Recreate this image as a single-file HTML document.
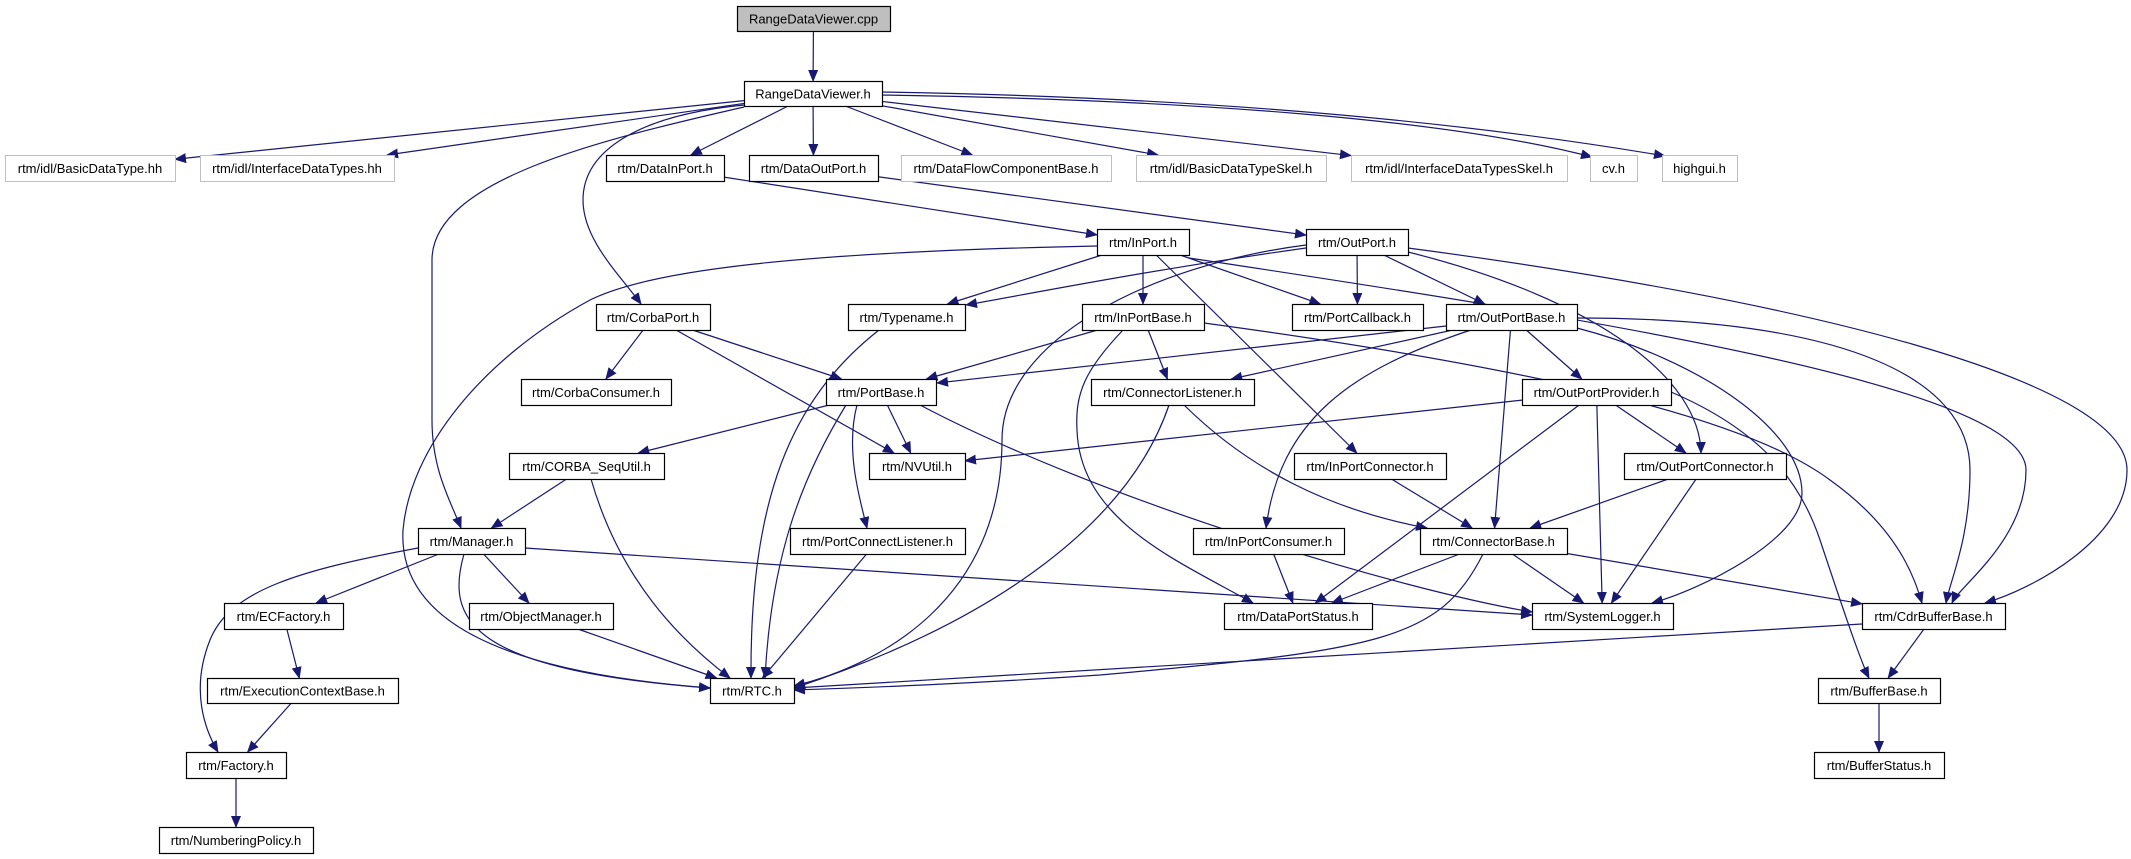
<!DOCTYPE html>
<html><head><meta charset="utf-8"><style>
html,body{margin:0;padding:0;background:#fff;}
svg{display:block;}
text{font-family:"Liberation Sans",Arial,sans-serif;font-size:13px;}
</style></head><body>
<svg id="g" width="2131" height="859" viewBox="0 0 2131 859" xmlns="http://www.w3.org/2000/svg">
<defs><marker id="a" markerWidth="12" markerHeight="10" refX="11" refY="5" orient="auto" markerUnits="userSpaceOnUse"><path d="M0,0 L12,5 L0,10 z" fill="#191970"/></marker></defs>
<g id="E" fill="none" stroke="#191970" stroke-width="1.2"></g>
<g id="N"></g>
</svg>
<script>
var N={
cpp:[737,6,890,31,"RangeDataViewer.cpp",2],
rdv:[744,81,882,106,"RangeDataViewer.h",0],
bdt:[5,155,175,181,"rtm/idl/BasicDataType.hh",1],
idt:[200,155,394,181,"rtm/idl/InterfaceDataTypes.hh",1],
dip:[606,155,724,181,"rtm/DataInPort.h",0],
dop:[749,155,878,181,"rtm/DataOutPort.h",0],
dfc:[901,155,1111,181,"rtm/DataFlowComponentBase.h",1],
bds:[1136,155,1326,181,"rtm/idl/BasicDataTypeSkel.h",1],
ids:[1351,155,1567,181,"rtm/idl/InterfaceDataTypesSkel.h",1],
cv:[1590,155,1637,181,"cv.h",1],
hg:[1662,155,1737,181,"highgui.h",1],
inp:[1097,229,1189,255,"rtm/InPort.h",0],
outp:[1306,229,1408,255,"rtm/OutPort.h",0],
cp:[596,304,710,330,"rtm/CorbaPort.h",0],
tn:[848,304,965,330,"rtm/Typename.h",0],
ipb:[1082,304,1204,330,"rtm/InPortBase.h",0],
pcb:[1292,304,1423,330,"rtm/PortCallback.h",0],
opb:[1446,304,1577,330,"rtm/OutPortBase.h",0],
cc:[521,379,671,405,"rtm/CorbaConsumer.h",0],
pb:[826,379,936,405,"rtm/PortBase.h",0],
cl:[1091,379,1254,405,"rtm/ConnectorListener.h",0],
opp:[1522,379,1671,405,"rtm/OutPortProvider.h",0],
csu:[509,453,664,479,"rtm/CORBA_SeqUtil.h",0],
nv:[869,453,965,479,"rtm/NVUtil.h",0],
ipc:[1294,453,1446,479,"rtm/InPortConnector.h",0],
opc:[1624,453,1786,479,"rtm/OutPortConnector.h",0],
mg:[418,528,525,554,"rtm/Manager.h",0],
pcl:[790,528,965,554,"rtm/PortConnectListener.h",0],
ipcs:[1193,528,1344,554,"rtm/InPortConsumer.h",0],
cb:[1420,528,1567,554,"rtm/ConnectorBase.h",0],
ecf:[224,603,343,629,"rtm/ECFactory.h",0],
om:[469,603,613,629,"rtm/ObjectManager.h",0],
dps:[1224,603,1372,629,"rtm/DataPortStatus.h",0],
sl:[1532,603,1673,629,"rtm/SystemLogger.h",0],
cdr:[1862,603,2005,629,"rtm/CdrBufferBase.h",0],
ecb:[207,678,398,703,"rtm/ExecutionContextBase.h",0],
rtc:[710,678,794,703,"rtm/RTC.h",0],
bb:[1818,678,1940,703,"rtm/BufferBase.h",0],
fac:[186,752,286,778,"rtm/Factory.h",0],
bs:[1814,752,1944,778,"rtm/BufferStatus.h",0],
np:[159,827,313,853,"rtm/NumberingPolicy.h",0]
};
var ns="http://www.w3.org/2000/svg";
function el(t,a,p){var e=document.createElementNS(ns,t);for(var k in a)e.setAttribute(k,a[k]);p.appendChild(e);return e;}
var E=document.getElementById("E"),G=document.getElementById("N");
function clip(b,qx,qy){
 var cx=(b[0]+b[2])/2,cy=(b[1]+b[3])/2,dx=qx-cx,dy=qy-cy,hw=(b[2]-b[0])/2,hh=(b[3]-b[1])/2;
 var s=Math.min(dx?hw/Math.abs(dx):1e9,dy?hh/Math.abs(dy):1e9);return [cx+dx*s,cy+dy*s];}
function c(k){var b=N[k];return [(b[0]+b[2])/2,(b[1]+b[3])/2];}
function ed(s,t,d){
 if(!d){var ca=c(s),cb2=c(t),p=clip(N[s],cb2[0],cb2[1]),q=clip(N[t],ca[0],ca[1]);d="M"+p+" L"+q;}
 el("path",{d:d,"marker-end":"url(#a)"},E);}
var L=[["cpp","rdv"],["rdv","bdt"],["rdv","idt"],["rdv","dip"],["rdv","dop"],["rdv","dfc"],["rdv","bds"],["rdv","ids"],
["rdv","cv","M882,95 C1200,100 1450,120 1592,157"],["rdv","hg","M882,92 C1250,98 1500,128 1665,156"],
["rdv","mg","M744,107 C600,140 432,180 432,260 L432,420 C432,470 450,500 461,528"],
["rdv","cp","M744,105 C640,115 583,150 583,200 C583,240 620,275 641,304"],
["dip","inp"],["dop","outp"],
["inp","rtc","M1097,246 C800,252 650,270 590,300 C480,360 410,450 403,530 C398,620 500,672 710,688"],
["inp","tn"],["inp","ipb"],["inp","pcb"],["inp","ipc"],
["inp","cdr","M1189,258 C1600,320 2026,387 2026,470 C2026,540 1960,585 1952,603"],
["outp","tn","M1306,248 C1150,270 1050,290 966,305"],["outp","pcb"],["outp","opb"],
["outp","opc","M1408,252 C1600,300 1700,380 1701,453"],
["outp","cdr","M1408,248 C1800,300 2127,380 2127,470 C2127,540 2030,590 1985,603"],
["outp","rtc","M1306,245 C1150,265 1002,340 1002,440 C1002,600 880,665 794,686"],
["cp","cc"],["cp","pb"],["cp","nv"],
["ipb","pb"],["ipb","cl"],
["ipb","dps","M1123,330 C1085,370 1075,393 1077,430 C1080,520 1176,560 1253,603"],
["ipb","cdr","M1204,323 C1550,370 1750,420 1830,480 C1900,530 1915,580 1922,603"],
["opb","pb","M1446,326 L937,383"],["opb","cl"],
["opb","ipcs","M1471,330 C1350,370 1280,420 1266,528"],["opb","cb"],["opb","opp"],
["opb","sl","M1577,328 C1700,360 1802,430 1802,493 C1802,540 1700,590 1652,603"],
["opb","cdr","M1577,318 C1850,318 1970,380 1970,470 C1970,540 1950,580 1946,603"],
["pb","csu"],["pb","nv"],
["pb","rtc","M846,405 C800,480 771,560 765,678"],
["pb","pcl","M857,405 C845,450 860,500 867,528"],
["pb","sl","M920,405 C1100,500 1400,590 1532,612"],
["tn","rtc","M879,330 C790,400 750,500 751,678"],
["cl","rtc","M1169,405 C1130,520 1000,620 794,688"],
["cl","cb","M1184,405 C1250,470 1330,510 1427,528"],
["opp","nv"],["opp","opc"],["opp","sl"],
["opp","bb","M1671,392 C1760,430 1800,480 1820,540 C1840,600 1860,660 1869,678"],["opp","dps"],
["csu","mg"],["csu","rtc","M591,479 C620,580 680,640 730,678"],["ipc","cb"],["opc","cb"],["opc","sl"],
["mg","fac","M418,548 C300,570 230,590 210,640 C190,690 205,730 218,752"],["mg","ecf"],
["mg","rtc","M464,554 C445,620 470,670 710,688"],["mg","om"],["mg","sl","M525,548 L1532,615"],
["pcl","rtc"],["ipcs","dps"],["cb","dps"],["cb","sl"],["cb","cdr"],
["cb","rtc","M1483,554 C1440,640 1380,650 1100,675 C950,685 850,688 794,690"],
["ecf","ecb"],["ecb","fac"],["fac","np"],["om","rtc"],["cdr","rtc","M1862,624 L794,688"],["cdr","bb"],["bb","bs"]];
L.forEach(function(e){ed(e[0],e[1],e[2]);});
for(var k in N){var b=N[k];
 el("rect",{x:b[0]+0.5,y:b[1]+0.5,width:b[2]-b[0],height:b[3]-b[1],fill:b[5]==2?"#bfbfbf":"#fff",stroke:b[5]==1?"#bfbfbf":"#000","stroke-width":b[5]==1?1:1.2},G);
 var t=el("text",{x:(b[0]+b[2])/2,y:(b[1]+b[3])/2+5,"text-anchor":"middle",fill:"#000"},G);t.textContent=b[4];}
</script>
</body></html>
